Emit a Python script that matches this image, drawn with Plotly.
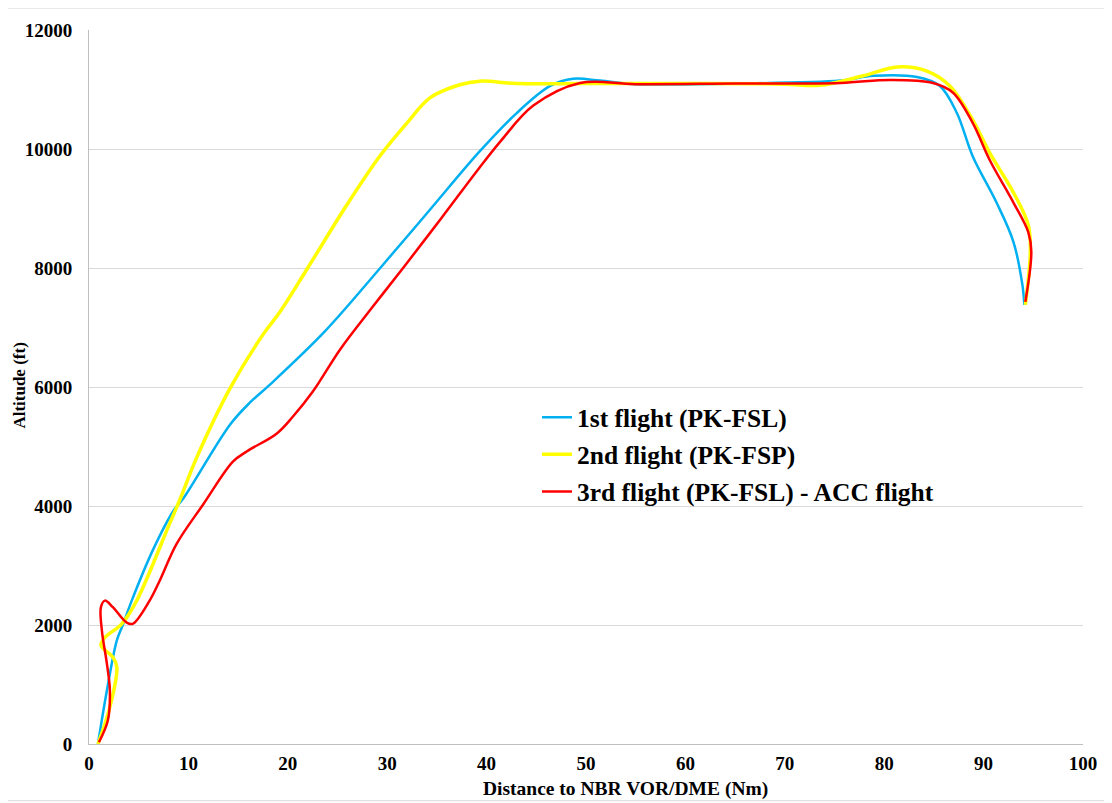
import plotly.graph_objects as go

# 1st flight (PK-FSL)
x1 = [0.9, 1.8, 2.8, 3.4, 4.3, 6.4, 8.5, 9.5, 14.2, 16.2, 18.2, 23.7, 29.3, 34.3, 39.3, 43.0, 46.4, 48.7,
      51.4, 55.0, 65.0, 75.6, 78.9, 83.3, 85.6, 87.3, 88.9, 91.3, 93.0, 93.9, 94.1]
y1 = [0, 900, 1740, 2000, 2410, 3250, 3920, 4130, 5370, 5740, 6040, 6930, 8000, 8980, 9960, 10600, 11060, 11180,
      11150, 11090, 11100, 11150, 11230, 11210, 11060, 10610, 9880, 9100, 8440, 7720, 7380]

# 2nd flight (PK-FSP)
x2 = [0.9, 2.1, 2.8, 2.4, 1.2, 1.6, 3.3, 4.8, 8.1, 9.2, 10.8, 14.2, 17.5, 19.2, 22.0, 25.9, 29.3, 32.0, 34.3,
      37.3, 39.3, 43.0, 50.0, 60.0, 70.0, 73.5, 77.9, 81.3, 84.3, 86.6, 88.9, 90.6, 93.0, 94.5, 94.7, 94.2]
y2 = [0, 620, 1290, 1460, 1660, 1790, 2020, 2410, 3700, 4130, 4800, 5980, 6880, 7260, 8000, 9050, 9890, 10440, 10860,
      11080, 11140, 11100, 11100, 11100, 11090, 11070, 11230, 11380, 11310, 11060, 10490, 9940, 9270, 8720, 8270, 7380]

# 3rd flight (PK-FSL) - ACC flight
x3 = [1.0, 1.9, 2.1, 1.8, 1.3, 1.2, 1.6, 2.4, 3.8, 4.4, 6.1, 7.1, 8.8, 11.5, 14.5, 15.9, 18.9, 20.5, 22.5, 25.3,
      28.5, 31.6, 35.5, 39.3, 41.5, 44.7, 49.4, 55.0, 65.0, 75.6, 80.6, 84.9, 86.9, 88.9, 90.6, 93.0, 94.5, 94.8, 94.2]
y3 = [30, 400, 900, 1350, 1900, 2300, 2410, 2300, 2040, 2020, 2410, 2740, 3360, 4030, 4750, 4920, 5220, 5500, 5920, 6640,
      7340, 8000, 8850, 9690, 10150, 10730, 11110, 11090, 11100, 11110, 11160, 11110, 10950, 10440, 9820, 9100, 8600, 8270, 7430]

names = ["1st flight (PK-FSL)", "2nd flight (PK-FSP)", "3rd flight (PK-FSL) - ACC flight"]
colors = ["#00B0F0", "#FFFF00", "#FF0000"]
widths = [2.5, 3.5, 2.5]

fig = go.Figure()
for i, (xs, ys, n, c, w) in enumerate(zip([x1, x2, x3], [y1, y2, y3], names, colors, widths)):
    fig.add_trace(go.Scatter(x=xs, y=ys, mode="lines", name=n, legendgroup=f"g{i}",
                             line=dict(color=c, width=w, shape="spline", smoothing=1.0)))

ff = "Liberation Serif"
fig.update_layout(
    width=1104, height=795,
    margin=dict(l=81, r=29, t=19, b=59),
    paper_bgcolor="white", plot_bgcolor="white",
    font=dict(family=ff, color="black", size=19),
    showlegend=True,
    legend=dict(x=0.4507, y=0.49, xanchor="left", yanchor="top",
                font=dict(family=ff, size=25.5, color="black", weight="bold"),
                bgcolor="rgba(0,0,0,0)", tracegroupgap=1, itemwidth=30),
    xaxis=dict(range=[0, 100], dtick=10, showgrid=False, showline=True, linecolor="#BFBFBF", linewidth=1,
               ticks="", zeroline=False, ticklabelstandoff=2,
               tickfont=dict(family=ff, size=19, weight="bold")),
    yaxis=dict(range=[0, 12000], dtick=2000, tickformat="d", showgrid=True, gridcolor="#D9D9D9", gridwidth=1,
               showline=True, linecolor="#BFBFBF", linewidth=1, ticks="", zeroline=False,
               ticklabelstandoff=12,
               tickfont=dict(family=ff, size=19, weight="bold")),
    annotations=[
        dict(text="<b>Distance to NBR VOR/DME (Nm)</b>", xref="paper", yref="paper", x=0.54, y=-0.0628,
             xanchor="center", yanchor="middle", showarrow=False, font=dict(family=ff, size=19.5)),
        dict(text="<b>Altitude (ft)</b>", xref="paper", yref="paper", x=-0.0694, y=0.502, textangle=-90,
             xanchor="center", yanchor="middle", showarrow=False, font=dict(family=ff, size=17)),
    ],
)
fig.add_shape(type="rect", xref="paper", yref="paper", x0=-0.0835, x1=1.0252, y0=-0.0795, y1=1.0307,
              line=dict(color="#D9D9D9", width=1), layer="below")
fig.write_html("out.html")
